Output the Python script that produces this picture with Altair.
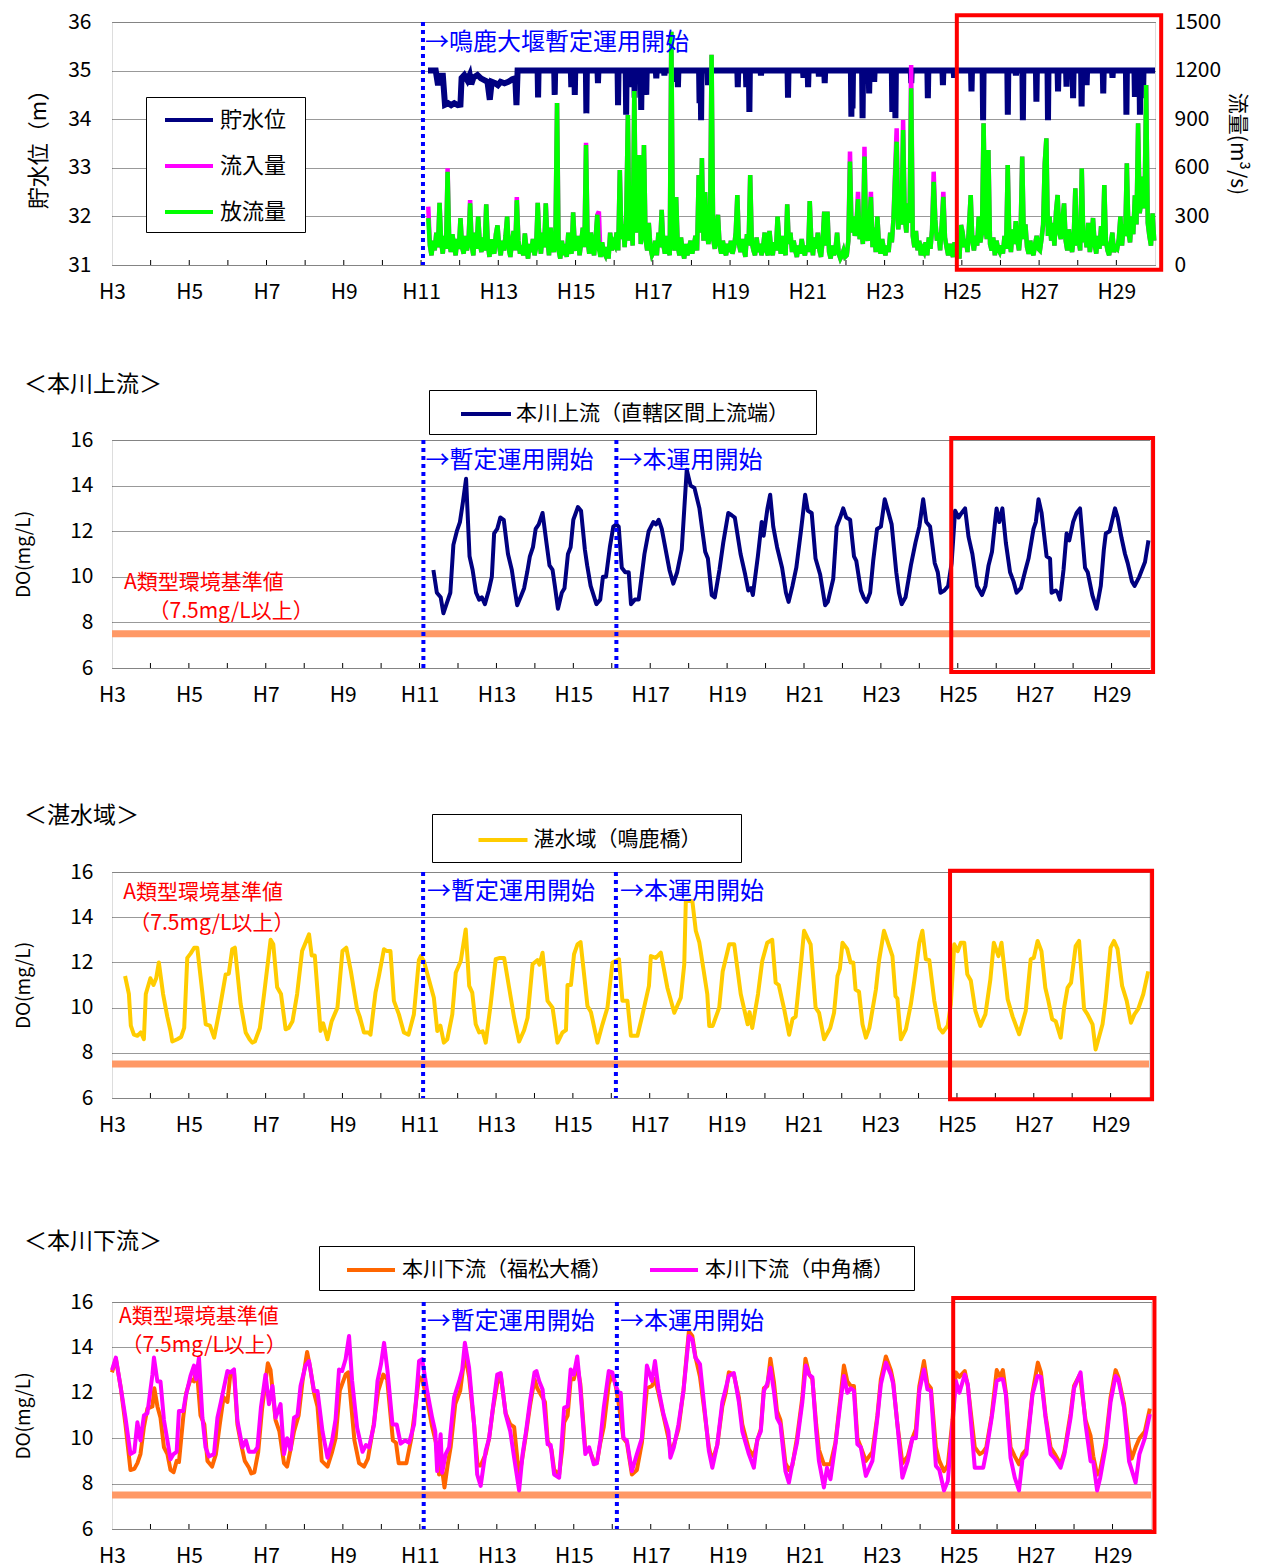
import altair as alt
import pandas as pd

JP = "Noto Sans CJK JP"
NUM = "Noto Sans CJK JP"

# ---------------- axes ----------------
X_LABEL_YEARS = list(range(3, 30, 2))        # H3 ... H29
X_TICK_YEARS = list(range(4, 30))
DO_TICKS = [6, 8, 10, 12, 14, 16]
LEVEL_TICKS = [31, 32, 33, 34, 35, 36]
FLOW_TICKS = [0, 300, 600, 900, 1200, 1500]

WEIR_START = [11.05]
DO_EVENTS = [11.1, 16.12]
STANDARD = 7.5

# ---------------- top panel: reservoir level / flows ----------------
TOP_NAMES = ["貯水位", "流入量", "放流量"]
TOP_COLORS = ["#000080", "#FF00FF", "#00FF00"]

LEVEL_NORMAL = 35.0
LEVEL_EARLY = [(11.18, 35.0), (11.38, 35.0), (11.44, 34.7), (11.48, 34.95), (11.52, 34.7), (11.56, 34.95),
               (11.62, 34.3), (11.7, 34.33), (11.78, 34.29), (11.86, 34.33), (11.95, 34.29), (12.02, 34.3),
               (12.05, 34.85), (12.12, 34.91), (12.2, 34.8), (12.26, 34.91), (12.3, 34.72), (12.36, 34.86),
               (12.46, 34.91), (12.55, 34.84), (12.65, 34.8), (12.72, 34.77), (12.78, 34.4), (12.83, 34.77),
               (12.92, 34.74), (12.99, 34.7), (13.06, 34.77), (13.16, 34.74), (13.26, 34.77), (13.36, 34.82),
               (13.44, 34.84), (13.47, 34.29), (13.5, 35.0)]
LEVEL_DIPS = [(14.03, 34.45), (14.46, 34.5), (14.89, 34.66), (14.98, 34.5), (15.28, 34.12), (15.58, 34.74),
              (16.1, 34.29), (16.31, 34.09), (16.44, 34.66), (16.53, 34.44), (16.7, 34.19), (16.83, 34.5),
              (17.09, 34.84), (17.3, 34.9), (17.57, 34.77), (17.65, 34.66), (18.21, 34.33), (18.25, 33.98),
              (18.43, 34.7), (19.2, 34.66), (19.42, 34.66), (19.5, 34.15), (19.8, 34.9), (20.5, 34.44),
              (20.9, 34.85), (21.02, 34.66), (21.3, 34.88), (21.45, 34.74), (22.14, 34.05), (22.17, 34.22),
              (22.43, 34.02), (22.6, 34.53), (22.73, 34.77), (23.2, 34.15), (23.28, 34.02), (23.69, 34.74),
              (24.12, 34.43), (24.51, 34.7), (24.8, 34.85), (25.25, 34.57), (25.55, 33.98), (26.19, 34.09),
              (26.4, 34.9), (26.58, 33.98), (26.93, 34.36), (27.23, 33.98), (27.49, 34.57), (27.71, 34.67),
              (27.88, 34.43), (28.1, 34.26), (28.23, 34.7), (28.66, 34.53), (28.9, 34.85), (29.26, 34.09),
              (29.48, 34.46), (29.61, 34.09), (29.69, 34.43)]
LEVEL_END = 30.0

# outflow, half-month readings per year (H11 ... H29)
OUT_YEARS = list(range(11, 30))
OUTFLOW = [
    [None, None, None, None, 290, 120, 60, 150, 90, 200, 110, 383, 140, 70, 180, 100, 576, 150, 80, 190, 120, 60, 160, 100],
    [290, 110, 70, 180, 90, 150, 380, 120, 60, 200, 100, 300, 140, 80, 170, 90, 375, 130, 50, 160, 110, 70, 190, 245],
    [120, 60, 150, 90, 180, 300, 100, 50, 140, 210, 90, 400, 150, 70, 120, 60, 195, 100, 40, 130, 80, 160, 60, 110],
    [383, 150, 70, 200, 110, 380, 160, 60, 230, 120, 80, 170, 1000, 90, 40, 150, 60, 130, 50, 200, 110, 70, 325, 120],
    [90, 180, 60, 140, 230, 110, 740, 150, 70, 200, 120, 60, 170, 310, 100, 50, 140, 80, 60, 110, 40, 200, 90, 140],
    [120, 200, 90, 586, 160, 250, 110, 300, 926, 150, 280, 120, 1074, 200, 350, 679, 130, 250, 740, 160, 90, 260, 110, 60],
    [80, 150, 60, 200, 110, 340, 130, 70, 180, 100, 60, 1440, 150, 90, 420, 120, 60, 170, 90, 40, 130, 60, 110, 150],
    [70, 120, 180, 90, 555, 200, 660, 150, 450, 220, 130, 190, 1297, 160, 100, 210, 310, 120, 70, 150, 90, 60, 130, 80],
    [150, 70, 110, 200, 432, 130, 80, 160, 100, 50, 190, 120, 555, 140, 90, 60, 170, 80, 130, 60, 110, 200, 90, 60],
    [210, 100, 60, 140, 90, 300, 150, 70, 180, 110, 60, 375, 130, 200, 80, 150, 90, 50, 120, 70, 160, 90, 60, 120],
    [80, 395, 140, 60, 170, 100, 200, 90, 50, 150, 330, 120, 329, 80, 40, 120, 60, 100, 200, 70, 40, 60, 90, 50],
    [60, 150, 638, 200, 300, 180, 250, 407, 160, 220, 130, 669, 200, 150, 260, 420, 110, 230, 80, 300, 130, 70, 160, 100],
    [60, 120, 80, 200, 140, 280, 535, 761, 220, 340, 250, 833, 300, 200, 380, 260, 1091, 180, 110, 210, 90, 150, 60, 100],
    [80, 140, 60, 170, 100, 220, 514, 280, 150, 200, 90, 250, 420, 170, 110, 60, 130, 80, 50, 140, 70, 110, 40, 247],
    [200, 110, 160, 80, 250, 432, 150, 90, 180, 120, 300, 140, 200, 875, 250, 160, 710, 130, 90, 170, 60, 150, 100, 80],
    [120, 70, 180, 100, 617, 160, 80, 220, 130, 270, 150, 90, 200, 669, 160, 250, 110, 70, 150, 90, 60, 130, 180, 100],
    [90, 160, 250, 628, 782, 180, 300, 150, 260, 120, 330, 432, 200, 160, 280, 380, 150, 90, 220, 130, 80, 170, 473, 120],
    [160, 90, 597, 140, 200, 110, 260, 80, 150, 290, 130, 70, 180, 100, 240, 120, 494, 150, 90, 60, 130, 200, 80, 110],
    [100, 160, 300, 120, 250, 180, 628, 200, 140, 300, 190, 430, 250, 875, 320, 400, 545, 350, 1111, 260, 180, 120, 319, 150],
]
# inflow peaks where the inflow line rises above the outflow line
INFLOW_PEAKS = [(11.19, 360), (11.69, 597), (12.27, 400), (13.48, 420), (15.27, 755), (15.6, 330),
                (22.1, 700), (22.31, 452), (22.48, 730), (22.65, 452), (23.27, 576), (23.31, 844),
                (23.48, 895), (23.69, 1235), (24.27, 576), (24.52, 452)]

# ---------------- DO series ----------------
UPPER_NAME = "本川上流（直轄区間上流端）"
UPPER = [(11.36, 10.3), (11.45, 9.3), (11.55, 9.1), (11.62, 8.4), (11.72, 8.9), (11.8, 9.3), (11.88, 11.4), (11.97, 12.0),
         (12.05, 12.4), (12.13, 13.3), (12.21, 14.3), (12.3, 10.9), (12.38, 10.3), (12.47, 9.3), (12.55, 9.0), (12.62, 9.1),
         (12.7, 8.8), (12.8, 9.4), (12.88, 10.0), (12.94, 11.9), (13.02, 12.1), (13.1, 12.6), (13.19, 12.5), (13.3, 11.0),
         (13.4, 10.3), (13.47, 9.5), (13.54, 8.75), (13.65, 9.2), (13.72, 9.5), (13.8, 10.2), (13.87, 10.9), (13.95, 11.3),
         (14.02, 12.1), (14.1, 12.3), (14.2, 12.8), (14.3, 11.5), (14.38, 10.5), (14.46, 10.3), (14.52, 9.6), (14.6, 8.6),
         (14.7, 9.3), (14.77, 9.5), (14.86, 11.0), (14.93, 11.3), (15.0, 12.5), (15.12, 13.06), (15.2, 12.9), (15.3, 11.2),
         (15.36, 10.5), (15.45, 9.6), (15.6, 8.8), (15.7, 9.0), (15.77, 10.0), (15.85, 10.0), (15.95, 11.3), (16.04, 12.2),
         (16.12, 12.3), (16.18, 12.2), (16.26, 10.4), (16.35, 10.2), (16.44, 10.2), (16.5, 8.8), (16.6, 9.0), (16.7, 9.0),
         (16.85, 11.0), (16.96, 12.0), (17.08, 12.4), (17.15, 12.3), (17.22, 12.5), (17.3, 12.1), (17.4, 11.2), (17.5, 10.3),
         (17.6, 9.7), (17.7, 10.2), (17.82, 11.2), (17.95, 14.7), (18.05, 14.0), (18.15, 13.9), (18.28, 13.0), (18.43, 11.1),
         (18.5, 10.8), (18.6, 9.2), (18.68, 9.1), (18.8, 10.3), (18.9, 11.5), (19.03, 12.8), (19.12, 12.7), (19.2, 12.6),
         (19.35, 11.0), (19.47, 10.1), (19.55, 9.4), (19.62, 9.5), (19.67, 9.2), (19.8, 10.9), (19.9, 12.4), (19.95, 11.8),
         (20.05, 13.0), (20.12, 13.6), (20.2, 12.2), (20.3, 11.3), (20.43, 10.4), (20.53, 9.3), (20.6, 8.9), (20.7, 9.6),
         (20.8, 10.4), (20.92, 12.0), (21.03, 13.6), (21.1, 12.9), (21.2, 12.8), (21.3, 10.8), (21.42, 10.1), (21.55, 8.75),
         (21.62, 8.9), (21.76, 9.9), (21.85, 12.2), (21.94, 12.6), (22.02, 13.0), (22.1, 12.6), (22.2, 12.5), (22.3, 10.9),
         (22.36, 10.7), (22.48, 9.4), (22.55, 9.1), (22.63, 8.9), (22.72, 9.3), (22.8, 10.7), (22.9, 12.1), (23.0, 12.2),
         (23.1, 13.4), (23.2, 12.8), (23.28, 12.3), (23.4, 10.2), (23.47, 9.3), (23.54, 8.8), (23.64, 9.1), (23.78, 10.5),
         (23.9, 11.5), (24.0, 12.2), (24.1, 13.4), (24.18, 12.4), (24.28, 12.2), (24.4, 10.6), (24.48, 10.2), (24.55, 9.3),
         (24.65, 9.4), (24.75, 9.6), (24.84, 10.6), (24.93, 12.9), (25.02, 12.6), (25.1, 12.8), (25.19, 13.0), (25.28, 11.75),
         (25.38, 11.0), (25.5, 9.6), (25.63, 9.2), (25.72, 9.6), (25.8, 10.5), (25.89, 11.1), (25.97, 12.4), (26.01, 13.0),
         (26.08, 12.4), (26.16, 13.0), (26.25, 11.5), (26.36, 10.2), (26.45, 9.8), (26.53, 9.3), (26.64, 9.5), (26.76, 10.3),
         (26.84, 10.8), (26.97, 12.1), (27.03, 12.4), (27.1, 13.4), (27.18, 12.8), (27.31, 10.9), (27.4, 10.8), (27.44, 9.3),
         (27.55, 9.4), (27.6, 9.3), (27.66, 9.0), (27.75, 10.3), (27.83, 11.9), (27.9, 11.6), (28.0, 12.4), (28.09, 12.8),
         (28.18, 13.0), (28.31, 10.4), (28.38, 10.2), (28.5, 9.2), (28.61, 8.6), (28.72, 9.6), (28.8, 11.2), (28.85, 11.9),
         (28.95, 12.0), (29.09, 13.0), (29.16, 12.6), (29.26, 11.7), (29.35, 11.0), (29.42, 10.6), (29.53, 9.8), (29.6, 9.6),
         (29.72, 10.0), (29.87, 10.65), (29.96, 11.6)]

LAKE_NAME = "湛水域（鳴鹿橋）"
LAKE = [(3.34, 11.4), (3.44, 10.6), (3.49, 9.2), (3.57, 8.8), (3.66, 8.75), (3.75, 8.9), (3.83, 8.6), (3.88, 10.6),
        (4.0, 11.3), (4.08, 11.0), (4.15, 11.3), (4.22, 12.0), (4.33, 10.6), (4.44, 9.6), (4.52, 9.0), (4.57, 8.5),
        (4.7, 8.6), (4.8, 8.7), (4.88, 9.1), (4.96, 12.2), (5.05, 12.4), (5.14, 12.65), (5.22, 12.65), (5.35, 10.7),
        (5.44, 9.26), (5.55, 9.2), (5.66, 8.67), (5.8, 9.9), (5.96, 11.47), (6.04, 11.5), (6.13, 12.58), (6.2, 12.65),
        (6.35, 10.15), (6.48, 8.9), (6.58, 8.6), (6.65, 8.45), (6.72, 8.5), (6.85, 9.1), (6.96, 10.6), (7.13, 13.0),
        (7.2, 12.8), (7.3, 10.9), (7.4, 10.6), (7.52, 9.04), (7.6, 9.1), (7.7, 9.4), (7.82, 10.6), (7.95, 12.5),
        (8.13, 13.24), (8.2, 12.3), (8.28, 12.3), (8.43, 8.97), (8.5, 9.3), (8.61, 8.6), (8.72, 9.4), (8.87, 10.0),
        (9.0, 12.5), (9.1, 12.65), (9.22, 11.6), (9.38, 9.93), (9.45, 9.6), (9.56, 8.9), (9.68, 8.9), (9.73, 8.8),
        (9.86, 10.66), (9.95, 11.4), (10.08, 12.58), (10.16, 12.5), (10.25, 12.5), (10.34, 10.3), (10.47, 9.7), (10.6, 8.9),
        (10.72, 8.8), (10.86, 9.7), (10.99, 12.1), (11.04, 12.28), (11.12, 12.06), (11.38, 10.44), (11.47, 8.96), (11.55, 9.2),
        (11.64, 8.45), (11.73, 8.6), (11.86, 9.7), (11.95, 11.54), (12.08, 12.06), (12.21, 13.46), (12.3, 10.96), (12.38, 10.66),
        (12.47, 9.26), (12.56, 8.9), (12.65, 8.95), (12.73, 8.45), (12.86, 10.15), (12.99, 12.14), (13.1, 12.2), (13.21, 12.2),
        (13.34, 10.88), (13.47, 9.55), (13.6, 8.5), (13.73, 9.0), (13.82, 9.55), (13.95, 11.92), (14.08, 12.1), (14.13, 11.9),
        (14.21, 12.43), (14.34, 10.3), (14.47, 10.0), (14.6, 8.45), (14.73, 8.9), (14.82, 9.0), (14.86, 11.0), (14.95, 11.0),
        (15.03, 12.36), (15.12, 12.8), (15.2, 12.9), (15.38, 10.07), (15.47, 9.8), (15.64, 8.45), (15.77, 9.26), (15.9, 10.0),
        (16.03, 11.99), (16.2, 12.14), (16.29, 10.3), (16.42, 10.3), (16.51, 8.75), (16.68, 8.75), (16.8, 9.6), (16.98, 10.96),
        (17.03, 12.28), (17.16, 12.2), (17.29, 12.43), (17.46, 10.88), (17.64, 9.77), (17.81, 10.44), (17.9, 11.92), (17.94, 14.72),
        (18.11, 14.72), (18.2, 13.4), (18.29, 12.9), (18.5, 10.59), (18.55, 9.19), (18.64, 9.19), (18.81, 10.0), (18.9, 11.6),
        (19.07, 12.8), (19.2, 12.8), (19.37, 10.6), (19.55, 9.26), (19.6, 9.8), (19.67, 9.1), (19.82, 10.6), (19.93, 12.06),
        (20.06, 12.87), (20.19, 13.0), (20.28, 11.1), (20.36, 11.0), (20.5, 9.94), (20.63, 8.8), (20.72, 9.5), (20.8, 9.6),
        (20.93, 11.77), (21.02, 13.4), (21.19, 12.8), (21.32, 10.0), (21.41, 9.77), (21.54, 8.6), (21.7, 9.1), (21.8, 9.77),
        (21.89, 11.4), (21.95, 11.7), (22.02, 12.87), (22.14, 12.6), (22.23, 12.0), (22.3, 12.0), (22.36, 10.8), (22.45, 10.7),
        (22.54, 9.26), (22.63, 8.67), (22.72, 9.1), (22.89, 10.8), (22.97, 12.06), (23.1, 13.4), (23.32, 12.28), (23.4, 10.5),
        (23.45, 10.4), (23.54, 8.6), (23.67, 9.04), (23.8, 10.15), (23.89, 11.2), (24.02, 12.87), (24.1, 13.4), (24.19, 12.14),
        (24.28, 12.1), (24.41, 10.3), (24.54, 9.1), (24.63, 8.9), (24.76, 9.2), (24.84, 10.15), (24.93, 12.8), (25.02, 12.5),
        (25.1, 12.87), (25.19, 12.87), (25.27, 11.47), (25.36, 11.2), (25.48, 9.85), (25.61, 9.19), (25.74, 9.7), (25.87, 11.25),
        (25.96, 12.87), (26.08, 12.28), (26.16, 12.87), (26.32, 10.37), (26.45, 9.6), (26.62, 8.82), (26.79, 9.85), (26.92, 12.14),
        (27.0, 12.2), (27.1, 12.95), (27.2, 12.5), (27.3, 10.88), (27.38, 10.3), (27.48, 9.48), (27.57, 9.4), (27.7, 8.67),
        (27.79, 10.0), (27.88, 10.88), (27.97, 11.1), (28.09, 12.72), (28.18, 12.95), (28.31, 9.93), (28.4, 9.7), (28.53, 9.26),
        (28.61, 8.15), (28.79, 9.26), (28.87, 10.3), (29.0, 12.65), (29.09, 12.95), (29.18, 12.6), (29.3, 10.96), (29.42, 10.3),
        (29.53, 9.33), (29.62, 9.7), (29.72, 9.94), (29.85, 10.59), (29.98, 11.6)]

LOWER_A_NAME = "本川下流（福松大橋）"
LOWER_A = [(3.0, 12.9), (3.1, 13.5), (3.23, 12.2), (3.35, 10.6), (3.48, 8.6), (3.58, 8.65), (3.66, 8.9), (3.74, 9.3),
           (3.83, 10.5), (3.92, 11.3), (4.05, 11.4), (4.1, 12.2), (4.18, 11.4), (4.26, 10.9), (4.35, 9.6), (4.44, 9.3),
           (4.52, 8.6), (4.6, 8.5), (4.68, 9.0), (4.74, 8.95), (4.85, 10.9), (4.93, 12.0), (5.04, 12.6), (5.13, 12.5),
           (5.2, 13.1), (5.3, 11.0), (5.4, 10.6), (5.48, 9.0), (5.6, 8.75), (5.7, 9.3), (5.8, 10.6), (5.9, 11.8),
           (6.0, 11.6), (6.08, 12.9), (6.17, 12.9), (6.26, 10.6), (6.36, 9.7), (6.45, 9.0), (6.56, 8.7), (6.62, 8.45),
           (6.7, 8.5), (6.8, 9.4), (6.9, 11.3), (7.05, 13.3), (7.12, 13.0), (7.25, 10.8), (7.35, 10.3), (7.47, 8.9),
           (7.55, 8.75), (7.64, 9.5), (7.73, 10.3), (7.85, 11.0), (7.95, 12.5), (8.07, 13.8), (8.15, 13.1), (8.25, 12.0),
           (8.34, 11.4), (8.45, 9.0), (8.6, 8.75), (8.72, 9.4), (8.81, 10.0), (8.92, 12.1), (9.07, 12.8), (9.14, 12.9),
           (9.3, 9.9), (9.42, 8.9), (9.55, 8.75), (9.65, 9.1), (9.8, 10.6), (9.92, 12.1), (10.05, 12.8), (10.15, 12.6),
           (10.3, 9.9), (10.38, 9.8), (10.45, 8.9), (10.55, 8.9), (10.65, 8.9), (10.78, 10.0), (10.9, 11.6), (10.98, 12.7),
           (11.06, 12.6), (11.2, 11.6), (11.32, 10.5), (11.42, 9.8), (11.5, 8.4), (11.58, 8.6), (11.64, 7.83), (11.72, 8.8),
           (11.8, 9.6), (11.92, 11.5), (12.05, 12.1), (12.17, 13.7), (12.28, 12.7), (12.41, 10.6), (12.5, 8.8), (12.58, 8.8),
           (12.71, 9.3), (12.8, 10.0), (12.9, 11.3), (13.01, 12.4), (13.1, 12.8), (13.23, 11.1), (13.35, 10.6), (13.45, 10.5),
           (13.58, 8.3), (13.67, 9.2), (13.76, 10.2), (13.86, 11.4), (13.98, 12.6), (14.05, 12.2), (14.15, 11.9), (14.25, 11.6),
           (14.32, 9.9), (14.42, 9.5), (14.49, 8.6), (14.62, 8.4), (14.7, 9.5), (14.75, 10.7), (14.84, 11.0), (14.92, 12.6),
           (15.0, 12.6), (15.09, 13.2), (15.17, 12.4), (15.3, 9.5), (15.4, 9.5), (15.52, 9.0), (15.6, 8.9), (15.69, 9.8),
           (15.78, 10.5), (15.91, 12.4), (16.0, 12.8), (16.08, 12.4), (16.16, 11.6), (16.22, 10.9), (16.29, 10.0), (16.38, 9.8),
           (16.51, 8.4), (16.64, 8.6), (16.77, 9.8), (16.9, 12.2), (17.03, 12.3), (17.11, 12.6), (17.2, 12.0), (17.33, 11.0),
           (17.46, 10.0), (17.51, 9.5), (17.6, 9.7), (17.72, 10.4), (17.85, 12.1), (17.99, 14.7), (18.08, 14.5), (18.16, 13.6),
           (18.28, 12.7), (18.38, 11.4), (18.51, 9.6), (18.6, 9.0), (18.73, 9.7), (18.86, 11.4), (18.95, 12.0), (19.03, 12.9),
           (19.16, 12.8), (19.29, 11.8), (19.38, 10.6), (19.55, 9.5), (19.68, 9.2), (19.77, 9.9), (19.86, 10.4), (19.94, 12.2),
           (20.03, 12.3), (20.11, 13.5), (20.2, 12.5), (20.28, 11.2), (20.37, 10.8), (20.5, 8.9), (20.59, 8.6), (20.68, 8.8),
           (20.8, 10.0), (20.94, 11.8), (21.02, 13.5), (21.12, 12.8), (21.2, 12.6), (21.3, 10.6), (21.37, 9.5), (21.5, 8.85),
           (21.58, 8.85), (21.67, 8.85), (21.8, 9.8), (21.93, 11.8), (22.02, 13.2), (22.11, 12.5), (22.2, 12.3), (22.28, 12.3),
           (22.37, 10.0), (22.46, 9.6), (22.59, 9.0), (22.76, 9.4), (22.89, 11.0), (22.98, 12.6), (23.11, 13.6), (23.24, 13.0),
           (23.3, 12.5), (23.41, 10.6), (23.54, 8.9), (23.68, 9.2), (23.8, 10.0), (23.89, 10.4), (23.98, 12.3), (24.1, 13.4),
           (24.19, 12.4), (24.28, 12.2), (24.41, 9.6), (24.5, 9.0), (24.62, 8.55), (24.72, 8.8), (24.84, 10.8), (24.93, 12.9),
           (25.02, 12.7), (25.16, 12.96), (25.24, 12.3), (25.42, 9.6), (25.55, 9.3), (25.64, 9.4), (25.72, 9.6), (25.86, 11.0),
           (25.99, 13.0), (26.08, 12.7), (26.15, 13.0), (26.23, 12.0), (26.35, 9.6), (26.46, 9.2), (26.57, 8.85), (26.66, 9.3),
           (26.76, 9.5), (26.92, 12.0), (27.06, 13.33), (27.14, 12.9), (27.26, 11.0), (27.39, 9.6), (27.5, 9.3), (27.65, 8.85),
           (27.75, 9.4), (27.91, 11.1), (28.0, 12.3), (28.15, 12.8), (28.3, 10.8), (28.43, 10.1), (28.5, 9.2), (28.6, 8.4),
           (28.68, 8.6), (28.82, 9.8), (28.95, 11.8), (29.08, 13.0), (29.15, 12.7), (29.3, 11.5), (29.43, 9.6), (29.5, 9.1),
           (29.6, 9.6), (29.7, 10.0), (29.84, 10.3), (29.97, 11.3)]

LOWER_B_NAME = "本川下流（中角橋）"
LOWER_B = [(3.0, 13.0), (3.1, 13.55), (3.23, 12.2), (3.35, 10.9), (3.48, 9.3), (3.58, 9.4), (3.66, 10.7), (3.74, 9.9),
           (3.83, 11.0), (3.92, 11.1), (4.05, 12.8), (4.09, 13.55), (4.18, 12.5), (4.26, 12.5), (4.35, 10.8), (4.44, 9.9),
           (4.52, 9.07), (4.6, 9.3), (4.68, 9.4), (4.74, 11.2), (4.85, 11.2), (4.91, 11.8), (5.04, 12.74), (5.13, 13.2),
           (5.18, 12.6), (5.26, 13.55), (5.35, 10.9), (5.43, 9.6), (5.52, 9.2), (5.65, 9.3), (5.74, 10.9), (5.83, 11.6),
           (6.0, 12.96), (6.08, 12.9), (6.17, 13.03), (6.26, 10.76), (6.39, 9.6), (6.48, 9.9), (6.56, 9.4), (6.7, 9.4),
           (6.78, 9.6), (6.87, 11.35), (6.99, 12.8), (7.08, 11.5), (7.17, 12.3), (7.25, 10.9), (7.38, 11.5), (7.47, 9.3),
           (7.55, 10.0), (7.64, 9.5), (7.73, 10.9), (7.82, 11.0), (7.9, 12.3), (8.03, 13.2), (8.12, 13.4), (8.25, 12.08),
           (8.34, 12.08), (8.47, 10.3), (8.6, 9.14), (8.72, 9.9), (8.81, 10.83), (8.9, 13.03), (8.98, 12.96), (9.07, 13.48),
           (9.16, 14.5), (9.24, 12.52), (9.37, 10.46), (9.51, 9.4), (9.6, 9.7), (9.68, 9.6), (9.81, 10.6), (9.9, 12.52),
           (9.99, 13.26), (10.07, 14.2), (10.16, 12.96), (10.29, 10.6), (10.4, 10.6), (10.5, 9.76), (10.62, 9.9), (10.72, 9.8),
           (10.85, 10.6), (10.98, 13.4), (11.06, 13.48), (11.19, 12.08), (11.32, 10.9), (11.4, 10.3), (11.45, 8.55), (11.54, 10.17),
           (11.58, 8.48), (11.67, 9.3), (11.76, 9.6), (11.89, 11.8), (12.02, 12.5), (12.1, 13.0), (12.17, 14.2), (12.28, 13.1),
           (12.41, 10.6), (12.49, 8.4), (12.58, 7.9), (12.71, 9.44), (12.8, 10.0), (12.9, 11.35), (13.01, 12.8), (13.1, 12.87),
           (13.23, 11.06), (13.35, 10.3), (13.45, 9.14), (13.58, 7.7), (13.67, 9.3), (13.76, 10.3), (13.86, 11.6), (13.98, 12.9),
           (14.03, 12.96), (14.1, 12.52), (14.19, 12.15), (14.32, 9.73), (14.4, 9.7), (14.49, 8.4), (14.62, 8.26), (14.68, 9.6),
           (14.75, 11.35), (14.84, 11.4), (14.92, 13.03), (15.0, 12.8), (15.09, 13.6), (15.17, 12.2), (15.3, 9.3), (15.4, 9.6),
           (15.52, 8.85), (15.6, 8.9), (15.69, 9.9), (15.78, 11.35), (15.91, 12.96), (16.0, 12.9), (16.08, 12.37), (16.16, 12.0),
           (16.22, 12.0), (16.29, 10.0), (16.38, 9.9), (16.51, 8.55), (16.64, 9.3), (16.77, 10.0), (16.9, 13.2), (17.03, 12.52),
           (17.11, 13.4), (17.2, 12.2), (17.33, 11.06), (17.46, 10.3), (17.51, 9.14), (17.6, 9.6), (17.72, 10.6), (17.85, 12.08),
           (17.99, 14.5), (18.08, 14.35), (18.16, 13.55), (18.28, 13.26), (18.38, 11.6), (18.51, 9.44), (18.6, 8.7), (18.73, 9.73),
           (18.86, 11.6), (18.95, 12.2), (19.03, 12.74), (19.16, 12.87), (19.29, 11.6), (19.38, 10.3), (19.55, 9.3), (19.68, 8.7),
           (19.77, 9.95), (19.86, 10.3), (19.94, 12.08), (20.03, 12.4), (20.11, 13.1), (20.2, 12.08), (20.28, 10.9), (20.37, 10.6),
           (20.5, 8.55), (20.59, 8.04), (20.68, 8.85), (20.8, 9.8), (20.94, 11.6), (21.03, 13.2), (21.12, 12.8), (21.2, 12.68),
           (21.3, 10.3), (21.37, 9.0), (21.5, 7.83), (21.58, 8.7), (21.67, 8.19), (21.8, 9.73), (21.93, 11.6), (22.02, 12.74),
           (22.11, 12.0), (22.2, 12.2), (22.28, 12.1), (22.37, 9.73), (22.46, 9.6), (22.59, 8.34), (22.76, 9.0), (22.89, 10.9),
           (22.98, 12.37), (23.11, 13.33), (23.24, 12.8), (23.3, 12.4), (23.41, 10.6), (23.54, 8.26), (23.68, 9.0), (23.8, 10.0),
           (23.89, 10.0), (23.98, 12.08), (24.1, 13.03), (24.19, 12.15), (24.28, 12.1), (24.41, 8.78), (24.5, 8.6), (24.62, 7.7),
           (24.72, 8.1), (24.84, 10.6), (24.93, 12.52), (25.02, 12.0), (25.16, 12.8), (25.24, 12.37), (25.42, 8.7), (25.64, 8.7),
           (25.72, 9.4), (25.86, 10.9), (25.99, 12.52), (26.08, 12.6), (26.15, 12.6), (26.23, 11.9), (26.35, 9.14), (26.46, 8.26),
           (26.57, 7.7), (26.66, 9.07), (26.76, 9.3), (26.92, 11.93), (27.05, 12.74), (27.14, 12.7), (27.26, 10.9), (27.39, 9.3),
           (27.5, 9.1), (27.65, 8.7), (27.75, 9.3), (27.91, 10.9), (28.0, 12.2), (28.17, 12.9), (28.3, 10.6), (28.43, 8.98),
           (28.5, 8.95), (28.6, 7.7), (28.68, 8.26), (28.82, 9.6), (28.95, 11.6), (29.08, 12.74), (29.15, 12.6), (29.3, 11.35),
           (29.43, 8.98), (29.6, 8.04), (29.7, 9.3), (29.84, 10.0), (29.97, 11.06)]

# ---------------- annotations ----------------
TOP_NOTE = [(11.05, 35.57, "→鳴鹿大堰暫定運用開始")]
EVENT_TEXTS = ["→暫定運用開始", "→本運用開始"]
STD_TEXT = ["A類型環境基準値", "（7.5mg/L以上）"]
TOP_BOX = (24.87, 30.16, 36.14, 30.9)
BOX2 = (24.83, 30.08, 16.09, 5.83)
BOX3 = (24.82, 30.08, 16.05, 5.95)
BOX4 = (24.86, 30.09, 16.18, 5.87)

ONE = pd.DataFrame({"k": [0]})


def xenc(field="t"):
    return alt.X(f"{field}:Q", scale=alt.Scale(domain=[3, 30], nice=False, zero=False),
                 axis=alt.Axis(values=X_LABEL_YEARS, labelExpr="'H' + datum.value", title=None,
                               grid=False, domain=False, ticks=False, labelPadding=16,
                               labelFont=NUM, labelFontSize=21, labelColor="black",
                               labelFlush=False, labelOverlap=False))


def ydo(field="v", axis=True):
    ax = alt.Axis(values=DO_TICKS, title="DO(mg/L)", titleFont=JP, titleFontSize=19,
                  titleFontWeight="normal", titlePadding=36, titleColor="black",
                  labelFont=NUM, labelFontSize=21, labelPadding=19, labelFlush=False,
                  labelColor="black", ticks=False, domain=False, grid=True,
                  gridColor="black", gridDash=[1, 1], gridOpacity=0.8)
    return alt.Y(f"{field}:Q", scale=alt.Scale(domain=[6, 16], nice=False, zero=False),
                 axis=ax if axis else None)


def ylevel(field="v", axis=True):
    ax = alt.Axis(values=LEVEL_TICKS, title="貯水位（m）", titleFont=JP, titleFontSize=22,
                  titleFontWeight="normal", titlePadding=17, titleColor="black", orient="left",
                  labelFont=NUM, labelFontSize=21, labelPadding=21, labelFlush=False,
                  labelColor="black", ticks=False, domain=False, grid=True,
                  gridColor="black", gridDash=[1, 1], gridOpacity=0.8)
    return alt.Y(f"{field}:Q", scale=alt.Scale(domain=[31, 36], nice=False, zero=False),
                 axis=ax if axis else None)


def yflow(field="q", axis=True):
    ax = alt.Axis(values=FLOW_TICKS, format="d", title="流量(m³/s)", titleFont=JP, titleFontSize=21,
                  titleFontWeight="normal", titlePadding=6, titleColor="black", orient="right",
                  labelFont=NUM, labelFontSize=21, labelPadding=19, labelFlush=False,
                  labelColor="black", ticks=False, domain=False, grid=False)
    return alt.Y(f"{field}:Q", scale=alt.Scale(domain=[0, 1500], nice=False, zero=False),
                 axis=ax if axis else None)


def inner_ticks(height):
    return alt.Chart(pd.DataFrame({"t": X_TICK_YEARS})).mark_rule(color="black", strokeWidth=1).encode(
        x=xenc(), y=alt.value(height), y2=alt.value(height - 5))


def red_box(box, yfn):
    df = pd.DataFrame({"x1": [box[0]], "x2": [box[1]], "y1": [box[2]], "y2": [box[3]]})
    return alt.Chart(df).mark_rect(fillOpacity=0, stroke="#FF0000", strokeWidth=4, clip=False).encode(
        x=xenc("x1"), x2="x2:Q", y=yfn("y1"), y2="y2:Q")


def legend_box(x, y, direction="horizontal", columns=None, lead=14, tail_glyph="■", tail_size=14,
               pad=10, row_pad=0, col_pad=10, sym_len=48, sym_unit=24, label_gap=4, label_size=21):
    # legend symbol: a horizontal stroke of length sym_len drawn on a small symbol box (sym_unit)
    k = sym_len / sym_unit
    kw = dict(orient="none", legendX=x, legendY=y, direction=direction,
              padding=pad, fillColor="white", strokeColor="black", cornerRadius=0,
              symbolType=f"M-{k:.3f},0H{k:.3f}", symbolSize=sym_unit * sym_unit, symbolStrokeWidth=4,
              symbolOffset=lead, labelFont=JP, labelFontSize=label_size, labelColor="black",
              labelOffset=label_gap + sym_len / 2 - sym_unit / 2, labelLimit=700,
              rowPadding=row_pad, columnPadding=col_pad,
              title=tail_glyph, titleOrient="right", titleFontSize=tail_size, titlePadding=0,
              titleAnchor="middle", titleBaseline="middle", titleColor="white", titleFont=JP)
    if columns:
        kw["columns"] = columns
    return alt.Legend(**kw)


# ================= panel 1 =================
level_pts = list(LEVEL_EARLY)
for t, v in LEVEL_DIPS:
    level_pts += [(t - 0.012, LEVEL_NORMAL), (t, v), (t + 0.012, LEVEL_NORMAL)]
level_pts.append((LEVEL_END, LEVEL_NORMAL))
level_df = pd.DataFrame(sorted(level_pts), columns=["t", "v"])
level_df["s"] = TOP_NAMES[0]

out_rows = []
for yr, vals in zip(OUT_YEARS, OUTFLOW):
    for i, q in enumerate(vals):
        if q is not None:
            out_rows.append((yr + (i + 0.5) / 24, q))
inflow = dict(out_rows)
for tp, qp in INFLOW_PEAKS:
    nearest = min(inflow, key=lambda tt: abs(tt - tp))
    inflow[nearest] = qp
in_df = pd.DataFrame(sorted(inflow.items()), columns=["t", "q"])
in_df["s"] = TOP_NAMES[1]
out_df = pd.DataFrame(out_rows, columns=["t", "q"])
out_df["s"] = TOP_NAMES[2]

top_legend = legend_box(34, 75, direction="vertical", lead=20, tail_size=9, pad=9, row_pad=21,
                        sym_len=48, label_gap=5, label_size=22)
top_color = alt.Color("s:N", scale=alt.Scale(domain=TOP_NAMES, range=TOP_COLORS), legend=top_legend)

P1_W, P1_H = 1043, 243
lvl = alt.Chart(level_df).mark_line(strokeWidth=6).encode(x=xenc(), y=ylevel(), color=top_color)
inl = alt.Chart(in_df).mark_line(strokeWidth=4.5).encode(x=xenc(), y=yflow(), color=top_color)
outl = alt.Chart(out_df).mark_line(strokeWidth=4.5).encode(x=xenc(), y=yflow(axis=False), color=top_color)
weir = alt.Chart(pd.DataFrame({"t": WEIR_START})).mark_rule(
    color="#0000FF", strokeWidth=4, strokeDash=[4, 4]).encode(x=xenc())
note = alt.Chart(pd.DataFrame(TOP_NOTE, columns=["t", "v", "label"])).mark_text(
    align="left", baseline="middle", dx=2, font=JP, fontSize=24, color="#0000FF").encode(
    x=xenc(), y=ylevel(axis=False), text="label:N")
p1 = alt.layer(inner_ticks(P1_H), lvl, inl, outl, weir, note, red_box(TOP_BOX, lambda f: ylevel(f, False))).resolve_scale(
    y="independent").properties(width=P1_W, height=P1_H)


# ================= DO panels =================
def do_panel(series, legend, section, section_y, ev_y, ev_dx, std_pos, box, w, h):
    names = [s[0] for s in series]
    colors = [s[2] for s in series]
    color = alt.Color("s:N", scale=alt.Scale(domain=names, range=colors), legend=legend)
    layers = [
        alt.Chart(ONE).mark_rule(color="#FF9966", strokeWidth=7).encode(y=alt.datum(STANDARD)),
    ]
    for name, pairs, col in series:
        df = pd.DataFrame(pairs, columns=["t", "v"])
        df["s"] = name
        layers.append(alt.Chart(df).mark_line(strokeWidth=4, strokeJoin="round").encode(
            x=xenc(), y=ydo(), color=color))
    layers.append(inner_ticks(h))
    layers.append(alt.Chart(pd.DataFrame({"t": DO_EVENTS})).mark_rule(
        color="#0000FF", strokeWidth=4, strokeDash=[4, 4]).encode(x=xenc()))
    ev = pd.DataFrame({"t": DO_EVENTS, "v": [ev_y, ev_y], "label": EVENT_TEXTS})
    layers.append(alt.Chart(ev).mark_text(align="left", baseline="middle", dx=ev_dx, font=JP,
                                          fontSize=24, color="#0000FF").encode(
        x=xenc(), y=ydo(), text="label:N"))
    st = pd.DataFrame({"t": [p[0] for p in std_pos], "v": [p[1] for p in std_pos], "label": STD_TEXT})
    layers.append(alt.Chart(st).mark_text(align="left", baseline="middle", font=JP,
                                          fontSize=21, color="#FF0000").encode(
        x=xenc(), y=ydo(), text="label:N"))
    layers.append(red_box(box, ydo))
    layers.append(alt.Chart(ONE).mark_text(align="left", baseline="middle", font=JP, fontSize=23,
                                           color="black").encode(
        x=alt.value(-88), y=alt.value(section_y), text=alt.value(section)))
    return alt.layer(*layers).properties(width=w, height=h)


p2 = do_panel([(UPPER_NAME, UPPER, "#000080")],
              legend_box(317, -50, lead=33, tail_size=16, pad=10, sym_len=50, label_gap=3),
              "＜本川上流＞", -55, 15.08, 2, [(3.31, 9.75), (3.95, 8.45)], BOX2, 1038, 228)
p3 = do_panel([(LAKE_NAME, LAKE, "#FFCC00")],
              legend_box(320, -58, lead=45, tail_glyph="■■", tail_size=14, pad=12, sym_len=49, label_gap=4),
              "＜湛水域＞", -56, 15.1, 4, [(3.29, 15.05), (3.45, 13.72)], BOX3, 1037, 226)
p4 = do_panel([(LOWER_A_NAME, LOWER_A, "#FF6600"), (LOWER_B_NAME, LOWER_B, "#FF00FF")],
              legend_box(207, -56, columns=2, lead=28, tail_size=9, pad=10, col_pad=20, sym_len=48, label_gap=5),
              "＜本川下流＞", -60, 15.12, 3, [(3.18, 15.33), (3.25, 14.06)], BOX4, 1039, 227)

inner = alt.vconcat(p2, p3, p4, spacing=204, bounds="flush").resolve_scale(
    x="independent", y="independent", color="independent")
chart = alt.vconcat(p1, inner, spacing=175, bounds="flush").resolve_scale(
    x="independent", y="independent", color="independent").properties(
    padding={"left": 6, "top": 2, "right": 6, "bottom": 0}
).configure_view(stroke="black", strokeWidth=2).configure(background="white")

chart.save("out.html", embed_options={"renderer": "svg", "actions": False})
